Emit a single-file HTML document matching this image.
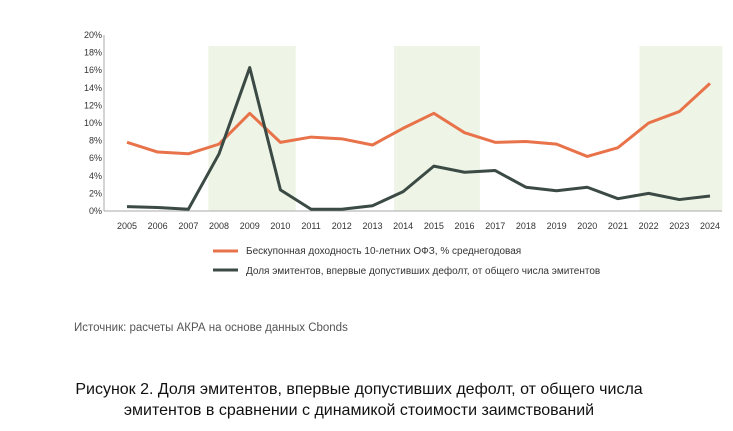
<!DOCTYPE html>
<html><head><meta charset="utf-8"><style>
body{margin:0;width:733px;height:431px;background:#fff;font-family:"Liberation Sans",sans-serif;overflow:hidden;position:relative}
svg{position:absolute;left:0;top:0}
.cap{position:absolute;left:0;width:718px;text-align:center;font-size:16px;color:#111;line-height:21px}
</style></head><body>
<svg width="733" height="431" id="c"></svg>
<div class="cap" style="top:379px">Рисунок 2. Доля эмитентов, впервые допустивших дефолт, от общего числа<br>эмитентов в сравнении с динамикой стоимости заимствований</div>
<script>
const years=[2005,2006,2007,2008,2009,2010,2011,2012,2013,2014,2015,2016,2017,2018,2019,2020,2021,2022,2023,2024];
const ofzYield=[7.8,6.7,6.5,7.6,11.1,7.8,8.4,8.2,7.5,9.4,11.1,8.9,7.8,7.9,7.6,6.2,7.2,10,11.3,14.5];
const defaultShare=[0.5,0.4,0.2,6.5,16.3,2.4,0.2,0.2,0.6,2.2,5.1,4.4,4.6,2.7,2.3,2.7,1.4,2.0,1.3,1.7];
const yTicks=[0,2,4,6,8,10,12,14,16,18,20];
const bands=[[2007.65,2010.5],[2013.7,2016.5],[2021.7,2024.4]];
const NS="http://www.w3.org/2000/svg",svg=document.getElementById('c');
const x=v=>127+(v-2005)*(583/19), y=v=>211-v*8.8;
function add(tag,a,txt){const e=document.createElementNS(NS,tag);for(const k in a)e.setAttribute(k,a[k]);if(txt!=null)e.textContent=txt;svg.appendChild(e);return e;}
bands.forEach(b=>{const e=add('rect',{x:x(b[0]),y:46,width:x(b[1])-x(b[0]),height:211-46,fill:'#eef5e6'});

});
let e=add('line',{x1:104,y1:35,x2:104,y2:211,stroke:'#aaa','stroke-width':1});

e=add('line',{x1:104,y1:211,x2:722,y2:211,stroke:'#aaa','stroke-width':1});

yTicks.forEach(t=>{const l=add('text',{x:102,y:y(t)+3,'text-anchor':'end','font-size':9,fill:'#333'},t+'%');

});
years.forEach(t=>{const l=add('text',{x:x(t),y:229,'text-anchor':'middle','font-size':9,fill:'#333'},t);

});
function line(vals,col,name){const p=add('polyline',{points:vals.map((v,i)=>x(years[i])+','+y(v)).join(' '),fill:'none',stroke:col,'stroke-width':3,'stroke-linejoin':'round'});

}
line(ofzYield,'#e8734a','ofz-yield-line');
line(defaultShare,'#3b4a44','default-share-line');
e=add('line',{x1:213,y1:251,x2:238,y2:251,stroke:'#e8734a','stroke-width':3});

e=add('text',{x:246,y:254,'font-size':10,fill:'#333'},'Бескупонная доходность 10-летних ОФЗ, % среднегодовая');

e=add('line',{x1:213,y1:270,x2:238,y2:270,stroke:'#3b4a44','stroke-width':3});

e=add('text',{x:246,y:274,'font-size':10,fill:'#333'},'Доля эмитентов, впервые допустивших дефолт, от общего числа эмитентов');

e=add('text',{x:74,y:331,'font-size':11.5,fill:'#555'},'Источник: расчеты АКРА на основе данных Cbonds');

</script>
</body></html>
